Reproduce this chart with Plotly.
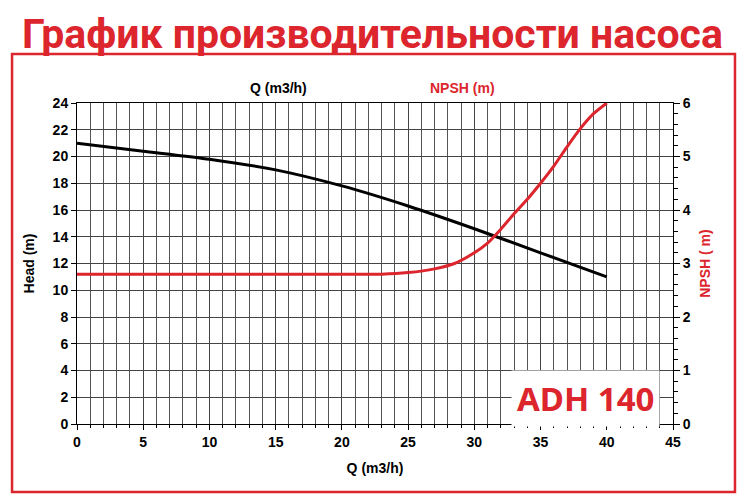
import plotly.graph_objects as go

# pump curve ADH 140
q_head = [0, 5, 10, 15, 20, 25, 30, 35, 40]
head_m = [21.0, 20.4, 19.8, 19.0, 17.8, 16.3, 14.6, 12.8, 11.0]

q_npsh = [0, 10, 20, 23, 25, 27, 28.5, 30, 31, 32, 33, 34, 35, 36, 37, 38, 39, 40]
npsh_m = [2.8, 2.8, 2.8, 2.8, 2.83, 2.9, 3.0, 3.2, 3.38, 3.64, 3.93, 4.2, 4.5, 4.82, 5.18, 5.52, 5.8, 6.0]

title = "График производительности насоса"
model = "ADH 140"

RED = "#dc252c"
AXIS_FONT = dict(family="Liberation Sans, Arial", size=14, color="black", weight="bold")
TITLE_FONT = dict(family="Liberation Sans, Arial", size=14, color="black", weight="bold")
RED_FONT = dict(family="Liberation Sans, Arial", size=14, color=RED, weight="bold")

fig = go.Figure()
fig.add_trace(go.Scatter(x=q_head, y=head_m, mode="lines", line=dict(color="black", width=3, shape="spline", smoothing=0.6), yaxis="y"))
fig.add_trace(go.Scatter(x=q_npsh, y=npsh_m, mode="lines", line=dict(color=RED, width=3, shape="spline", smoothing=0.6), yaxis="y2"))

# the page body adds an 8px margin, so the figure is drawn 8px smaller
fig.update_layout(
    width=737,
    height=492,
    margin=dict(l=69, r=72, t=95, b=76, autoexpand=False),
    paper_bgcolor="white",
    plot_bgcolor="white",
    showlegend=False,
    xaxis=dict(
        range=[0, 45], dtick=5, showgrid=True, gridcolor="#444", gridwidth=1, automargin=False,
        minor=dict(dtick=1, showgrid=True, gridcolor="#555", gridwidth=1, ticks="outside", ticklen=3, tickcolor="black"),
        ticks="outside", ticklen=5, tickcolor="black", showline=True, linecolor="black", mirror=True,
        tickfont=AXIS_FONT, zeroline=False,
        title=dict(text="Q (m3/h)", font=TITLE_FONT, standoff=14),
    ),
    yaxis=dict(
        range=[0, 24], dtick=2, showgrid=True, gridcolor="#444", gridwidth=1, automargin=False,
        ticks="outside", ticklen=5, tickcolor="black", showline=True, linecolor="black",
        tickfont=AXIS_FONT, zeroline=False,
        title=dict(text="Head (m)", font=TITLE_FONT, standoff=14),
    ),
    yaxis2=dict(
        range=[0, 6], dtick=1, overlaying="y", side="right", showgrid=False, automargin=False,
        minor=dict(dtick=0.2, ticks="outside", ticklen=4, tickcolor="black"),
        ticks="outside", ticklen=6, tickcolor="black", showline=True, linecolor="black",
        tickfont=AXIS_FONT, zeroline=False,
        title=dict(text="NPSH ( m)", font=RED_FONT, standoff=10),
    ),
    font=dict(family="Liberation Sans, Arial"),
)

# red frame around the chart
fig.add_shape(type="rect", xref="paper", yref="paper", x0=-0.109, x1=1.104, y0=-0.212, y1=1.153,
              line=dict(color=RED, width=2.5), layer="below")

fig.add_annotation(text=title, xref="paper", yref="paper", x=0.495, y=1.296, yanchor="top", showarrow=False,
                   font=dict(family="Roboto", size=41, color=RED, weight="bold"))
fig.add_annotation(text="Q (m3/h)", xref="paper", yref="paper", x=0.287, y=1.078, showarrow=False, font=TITLE_FONT)
fig.add_annotation(text="NPSH (m)", xref="paper", yref="paper", x=0.705, y=1.078, showarrow=False, font=RED_FONT)
fig.add_annotation(text=model, x=38.4, y=1.94, xref="x", yref="y", showarrow=False, bgcolor="white", borderpad=5,
                   font=dict(family="Noto Sans", size=33, color=RED, weight="bold"))

fig.write_html("out.html")
